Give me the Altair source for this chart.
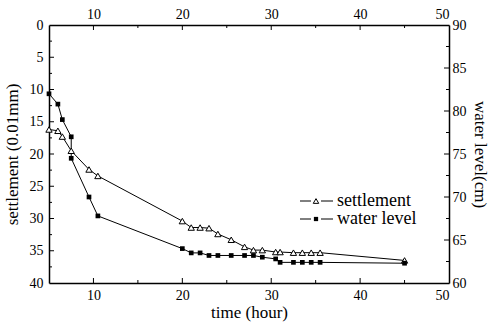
import altair as alt
import pandas as pd

# ---- data ----
time_settle = [5, 6, 6.5, 7.5, 9.5, 10.5, 20, 21, 22, 23, 24, 25.5, 27, 28, 29, 30.5, 31, 32.5, 33.5, 34.5, 35.5, 45]
settlement = [16.2, 16.4, 17.3, 19.5, 22.4, 23.4, 30.4, 31.4, 31.4, 31.5, 32.4, 33.3, 34.4, 34.9, 34.9, 35.2, 35.2, 35.3, 35.3, 35.3, 35.3, 36.5]

time_water = [5, 6, 6.5, 7.5, 7.5, 9.5, 10.5, 20, 21, 22, 23, 24, 25.5, 27, 28, 29, 30.5, 31, 32.5, 33.5, 34.5, 35.5, 45]
water_level = [82.0, 80.8, 79.0, 77.0, 74.5, 70.0, 67.8, 64.0, 63.5, 63.5, 63.2, 63.2, 63.2, 63.2, 63.2, 63.0, 62.8, 62.4, 62.4, 62.4, 62.4, 62.4, 62.3]

x_labels = [10, 20, 30, 40, 50]
x_major = [10, 20, 30, 40]
x_minor = [15, 25, 35, 45]
left_labels = [0, 5, 10, 15, 20, 25, 30, 35, 40]
left_major = [5, 10, 15, 20, 25, 30, 35]
left_minor = [2.5, 7.5, 12.5, 17.5, 22.5, 27.5, 32.5, 37.5]
right_labels = [60, 65, 70, 75, 80, 85, 90]
right_major = [65, 70, 75, 80, 85]
right_minor = [62.5, 67.5, 72.5, 77.5, 82.5, 87.5]
legend_labels = ["settlement", "water level"]

W, H = 400, 258
FONT = "Liberation Serif"

s_df = pd.DataFrame({"t": time_settle, "v": settlement, "i": range(len(settlement))})
w_df = pd.DataFrame({"t": time_water, "v": water_level, "i": range(len(water_level))})
leg_df = pd.DataFrame({"label": legend_labels})

xscale = alt.Scale(domain=[5, 50], nice=False, zero=False)
sscale = alt.Scale(domain=[0, 40], reverse=True, nice=False, zero=False)
wscale = alt.Scale(domain=[60, 90], nice=False, zero=False)

AX = dict(tickSize=0, grid=False, labelFont=FONT, titleFont=FONT, labelFontSize=14,
          titleFontSize=17, titleFontWeight="normal", labelColor="black", titleColor="black",
          domainColor="black", domainWidth=1.5)


def df(vals):
    return pd.DataFrame({"v": vals})


x_bottom = alt.X("t:Q", scale=xscale,
                 axis=alt.Axis(orient="bottom", values=x_labels, title="time (hour)",
                               labelPadding=5, titlePadding=2, **AX))
y_left = alt.Y("v:Q", scale=sscale,
               axis=alt.Axis(orient="left", values=left_labels, title="settlement (0.01mm)",
                             labelPadding=6, titlePadding=8, **AX))
x_top = alt.X("t:Q", scale=xscale,
              axis=alt.Axis(orient="top", values=x_labels, title=None, labelPadding=4, **AX))
y_right = alt.Y("v:Q", scale=wscale,
                axis=alt.Axis(orient="right", values=right_labels, title="water level(cm)",
                              labelPadding=3, titlePadding=4, **AX))
x_none = alt.X("t:Q", scale=xscale, axis=None)

s_line = alt.Chart(s_df).mark_line(color="black", strokeWidth=1).encode(
    x=x_bottom, y=y_left, order="i:Q")
s_pts = alt.Chart(s_df).mark_point(shape="triangle-up", size=40, filled=True,
                                   fill="white", stroke="black", strokeWidth=1, opacity=1).encode(
    x=x_none, y=alt.Y("v:Q", scale=sscale, axis=None))

w_line = alt.Chart(w_df).mark_line(color="black", strokeWidth=1).encode(
    x=x_top, y=y_right, order="i:Q")
w_pts = alt.Chart(w_df).mark_point(shape="square", size=22, filled=True,
                                   color="black", opacity=1).encode(
    x=x_none, y=alt.Y("v:Q", scale=wscale, axis=None))


def yrule(vals, x0, x1, scale):
    return alt.Chart(df(vals)).mark_rule(color="black", strokeWidth=1).encode(
        y=alt.Y("v:Q", scale=scale, axis=None), x=alt.value(x0), x2=alt.value(x1))


def xrule(vals, y0, y1):
    return alt.Chart(df(vals)).mark_rule(color="black", strokeWidth=1).encode(
        x=alt.X("v:Q", scale=xscale, axis=None), y=alt.value(y0), y2=alt.value(y1))


ticks = [
    yrule(left_major, 0, 5, sscale), yrule(left_minor, 0, 3, sscale),
    yrule(right_major, W - 5, W, wscale), yrule(right_minor, W - 3, W, wscale),
    xrule(x_major, H, H - 5), xrule(x_minor, H, H - 3),
    xrule(x_major, 0, 5), xrule(x_minor, 0, 3),
]

# ---------- legend ----------
ly = alt.Y("label:N", scale=alt.Scale(type="point", domain=legend_labels, range=[176, 194], padding=0),
           axis=None)
leg_seg1 = alt.Chart(leg_df).mark_rule(color="black", strokeWidth=1).encode(
    y=ly, x=alt.value(251), x2=alt.value(262))
leg_seg2 = alt.Chart(leg_df).mark_rule(color="black", strokeWidth=1).encode(
    y=ly, x=alt.value(272), x2=alt.value(284))
leg_tri = alt.Chart(leg_df).transform_filter(alt.datum.label == legend_labels[0]).mark_point(
    shape="triangle-up", size=30, filled=True, fill="white", stroke="black", strokeWidth=1, opacity=1
).encode(y=ly, x=alt.value(267))
leg_sq = alt.Chart(leg_df).transform_filter(alt.datum.label == legend_labels[1]).mark_point(
    shape="square", size=18, filled=True, color="black", opacity=1
).encode(y=ly, x=alt.value(267))
leg_text = alt.Chart(leg_df).mark_text(align="left", baseline="middle", font=FONT, fontSize=18,
                                       color="black").encode(
    y=ly, x=alt.value(288), text="label:N")

chart = alt.layer(
    s_line, w_line, s_pts, w_pts, *ticks, leg_seg1, leg_seg2, leg_tri, leg_sq, leg_text
).resolve_scale(
    y="independent"
).resolve_axis(
    x="independent", y="independent"
).properties(
    width=W, height=H,
    autosize=alt.AutoSizeParams(type="none"),
    padding={"left": 49, "top": 25, "right": 41, "bottom": 44},
    background="white",
).configure_view(
    stroke=None
)

chart.save("out.html", embed_options={"renderer": "svg", "actions": False})
